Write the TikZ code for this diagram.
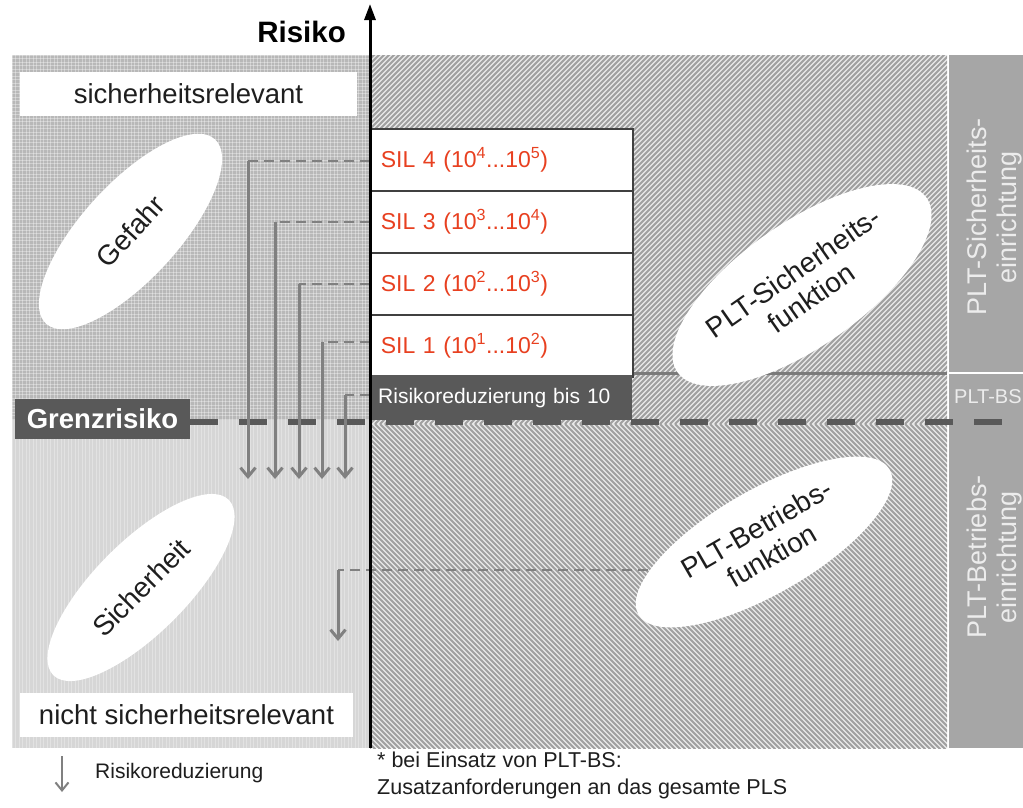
\documentclass[tikz,border=0pt]{standalone}
\usepackage{fontspec}
\setmainfont{Liberation Sans}
\usetikzlibrary{shapes.geometric,arrows.meta}

\definecolor{silred}{RGB}{232,64,32}
\definecolor{darkbox}{RGB}{89,89,89}
\definecolor{upfill}{RGB}{184,184,184}
\definecolor{lowfill}{RGB}{214,214,214}
\definecolor{hatchbg}{RGB}{232,232,232}
\definecolor{hatchln}{RGB}{160,160,160}
\definecolor{colgray}{RGB}{166,166,166}
\definecolor{coltext}{RGB}{236,236,236}
\definecolor{linkgray}{RGB}{128,128,128}
\definecolor{inkgray}{RGB}{30,30,30}

\tikzset{
  fs/.style={font=\fontsize{#1}{#1}\selectfont},
  labelbox/.style={fill=white, minimum width=337, minimum height=44, inner sep=0, fs=27.5, text=inkgray},
  silbox/.style={draw=inkgray!85, line width=1.6, fill=white, minimum width=262, minimum height=62,
    text width=242, inner xsep=10, inner ysep=0, align=left, text=silred, fs=23, anchor=north west},
  blob/.style={ellipse, fill=white, inner sep=0, align=center, text=inkgray},
  coltitle/.style={rotate=90, align=center, text=coltext, font=\fontsize{27}{30}\selectfont},
  dashlink/.style={draw=linkgray, line width=2, dash pattern=on 10 off 6},
  riskarrow/.style={draw=linkgray, line width=3, -{Straight Barb[length=9,width=15]}},
}

\begin{document}
\begin{tikzpicture}[x=1pt,y=1pt]
\useasboundingbox (0,0) rectangle (1023,-807);
\fill[white] (0,0) rectangle (1023,-807);

% left field, upper part: fine mesh on mid gray
\begin{scope}
  \clip (12,-55) rectangle (370,-420);
  \fill[upfill] (12,-55) rectangle (370,-420);
  \foreach \i in {0,...,103} {
    \draw[white, opacity=.35, line width=.8] (12+\i*3.5,-55) -- ++(0,-365);
  }
  \foreach \i in {0,...,105} {
    \draw[white, opacity=.35, line width=.8] (12,-55-\i*3.5) -- ++(358,0);
  }
\end{scope}

% left field, lower part: light dotted gray
\begin{scope}
  \clip (12,-420) rectangle (370,-748);
  \fill[lowfill] (12,-420) rectangle (370,-748);
  \foreach \i in {0,...,103} {
    \draw[white, opacity=.3, line width=.8] (12+\i*3.5,-420) -- ++(0,-328);
  }
\end{scope}

% right field, upper part: hatching rising to the right
\begin{scope}
  \clip (370,-55) rectangle (947,-424);
  \fill[hatchbg] (370,-55) rectangle (947,-424);
  \foreach \i in {0,...,192} {
    \draw[hatchln, line width=1.9] (0+\i*5,-424) -- ++(370,370);
  }
\end{scope}

% right field, lower part: hatching falling to the right
\begin{scope}
  \clip (370,-424) rectangle (947,-748);
  \fill[hatchbg] (370,-424) rectangle (947,-748);
  \foreach \i in {0,...,182} {
    \draw[hatchln, line width=1.9] (40+\i*5,-424) -- ++(326,-326);
  }
\end{scope}

% right column
\fill[colgray] (949,-55) rectangle (1023,-748);
\draw[white, line width=2] (949,-373) -- (1023,-373);
\node[coltitle] (colsafe) at (995,-217) {PLT-Sicherheits-\\einrichtung};
\node[coltitle] (coloper) at (995,-557) {PLT-Betriebs-\\einrichtung};
\begin{scope}
  \clip (949,-374) rectangle (1023,-748);
  \node[anchor=west, text=coltext, fs=20, inner sep=0] (colbs) at (954,-397) {PLT-BS};
\end{scope}

% boundary between safety function and operating function band
\draw[linkgray!95!black, line width=3] (632,-373) -- (947,-373);

% region labels
\node[labelbox] (relevant) at (188.5,-93.5) {sicherheitsrelevant};
\node[labelbox, minimum width=333] (notrelevant) at (186.5,-714.5) {nicht sicherheitsrelevant};

% ellipses
\node[blob, minimum width=250, minimum height=96, rotate=47.5, fs=28] (gefahr) at (130.5,-231.5) {Gefahr};
\node[blob, minimum width=248, minimum height=92, rotate=45, fs=28] (sicherheit) at (141,-587.5) {Sicherheit};
\node[blob, minimum width=304, minimum height=124, rotate=35, font=\fontsize{28}{31}\selectfont] (sfunk) at (802,-285) {PLT-Sicherheits-\\funktion};
\node[blob, minimum width=290, minimum height=104, rotate=30, font=\fontsize{28}{31}\selectfont] (bfunk) at (764,-542) {PLT-Betriebs-\\funktion};

% SIL stack
\node[silbox] (sil4) at (370,-128) {SIL 4 (10\textsuperscript{4}...10\textsuperscript{5})};
\node[silbox] (sil3) at (370,-190) {SIL 3 (10\textsuperscript{3}...10\textsuperscript{4})};
\node[silbox] (sil2) at (370,-252) {SIL 2 (10\textsuperscript{2}...10\textsuperscript{3})};
\node[silbox] (sil1) at (370,-314) {SIL 1 (10\textsuperscript{1}...10\textsuperscript{2})};
\node[anchor=north west, fill=darkbox, minimum width=262, minimum height=45, text width=246, inner xsep=8,
      inner ysep=0, align=left, text=white, fs=21] (sil0) at (370,-375) {Risikoreduzierung bis 10};

% limit risk
\node[fill=darkbox, minimum width=175, minimum height=40, inner sep=0, text=white,
      font=\bfseries\fontsize{27.5}{30}\selectfont] (grenz) at (102.5,-419) {Grenzrisiko};
\coordinate (gline) at (1023,-422);
\draw[darkbox, line width=6, dash pattern=on 28 off 21] (grenz.east |- gline) -- (gline);

% risk reduction arrows from the SIL levels
\foreach \n/\x/\y in {4/248/-161, 3/275/-222, 2/299/-284, 1/322/-342, 0/345/-395} {
  \coordinate (s\n) at (370,\y);
  \coordinate (k\n) at (\x,\y);
  \coordinate (e\n) at (\x,-479);
  \draw[dashlink] (s\n) -- (k\n);
  \draw[riskarrow] (k\n) -- (e\n);
}

% risk reduction by the operating function
\coordinate (bstart) at (648,-570);
\coordinate (bknee) at (338,-570);
\coordinate (bend) at (338,-641);
\draw[dashlink] (bstart) -- (bknee);
\draw[riskarrow] (bknee) -- (bend);

% risk axis
\coordinate (axbot) at (370,-748);
\coordinate (axtop) at (370,-4);
\draw[black, line width=3, -{Triangle[length=16,width=11]}] (axbot) -- (axtop);
\node[anchor=east, font=\bfseries\fontsize{29.5}{32}\selectfont, inner sep=0] (risiko) at (346,-32) {Risiko};

% legend
\coordinate (lgtop) at (62,-756);
\coordinate (lgbot) at (62,-792);
\draw[draw=linkgray, line width=2, -{Straight Barb[length=8,width=13]}] (lgtop) -- (lgbot);
\node[anchor=west, fs=21, inner sep=0, text=inkgray] (lgtext) at (95,-773) {Risikoreduzierung};
\node[anchor=north west, inner sep=0, align=left, text=inkgray,
      font=\fontsize{21.5}{27}\selectfont] (note) at (377,-752)
  {* bei Einsatz von PLT-BS:\\Zusatzanforderungen an das gesamte PLS};
\end{tikzpicture}
\end{document}
